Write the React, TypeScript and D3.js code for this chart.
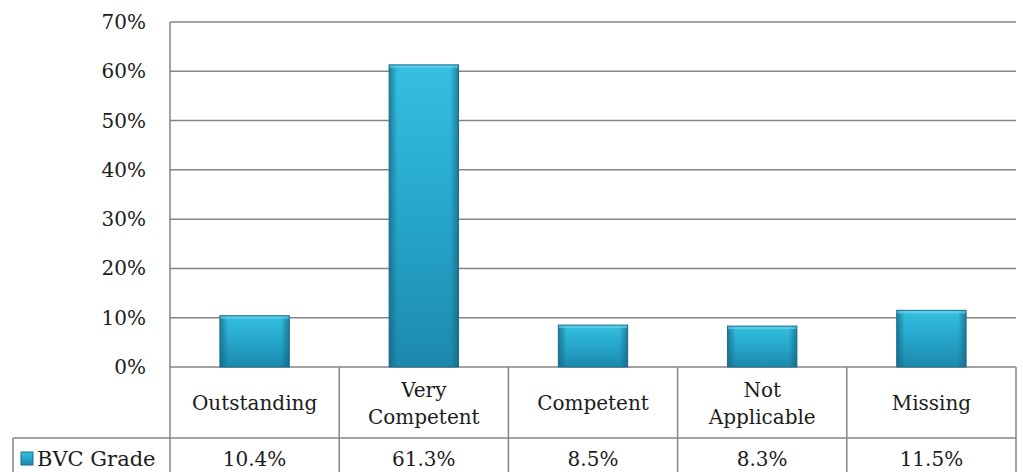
import * as d3 from "d3";
import React from "react";

const categories = ["Outstanding", "Very Competent", "Competent", "Not Applicable", "Missing"];
const categoryLines = [["Outstanding"], ["Very", "Competent"], ["Competent"], ["Not", "Applicable"], ["Missing"]];
const values = [10.4, 61.3, 8.5, 8.3, 11.5];
const valueLabels = ["10.4%", "61.3%", "8.5%", "8.3%", "11.5%"];
const yTicks = [0, 10, 20, 30, 40, 50, 60, 70];
const seriesName = "BVC Grade";

const W = 1023;
const H = 472;
const left = 170;
const right = 1016;
const top = 22;
const zeroY = 367;
const row1Bottom = 438;
const row2Bottom = 474;
const tableLeft = 13;
const font = "'DejaVu Serif', serif";

export default function App() {
  const x = d3.scaleBand().domain(categories).range([left, right]).paddingInner(0).paddingOuter(0);
  const y = d3.scaleLinear().domain([0, 70]).range([zeroY, top]);
  const barW = x.bandwidth() * 0.41;
  const grid = "#858585";
  const ink = "#1c1c1c";

  return (
    <svg width={W} height={H} style={{ position: "absolute", left: 0, top: 0, background: "#fff" }}>
      <defs>
        <linearGradient id="barFill" x1="0" y1="0" x2="0" y2="1">
          <stop offset="0" stopColor="#36c0e0" />
          <stop offset="0.5" stopColor="#25a6ca" />
          <stop offset="1" stopColor="#1c89ad" />
        </linearGradient>
        <linearGradient id="barSide" x1="0" y1="0" x2="1" y2="0">
          <stop offset="0" stopColor="#15627c" stopOpacity="0.7" />
          <stop offset="0.12" stopColor="#15627c" stopOpacity="0" />
          <stop offset="0.88" stopColor="#15627c" stopOpacity="0" />
          <stop offset="1" stopColor="#15627c" stopOpacity="0.7" />
        </linearGradient>
      </defs>
      {yTicks.map((t) => (
        <g key={t}>
          <line x1={left} x2={right} y1={y(t)} y2={y(t)} stroke={grid} strokeWidth={1.5} />
          <text x={146} y={y(t)} dy="0.35em" textAnchor="end" fontFamily={font} fontSize={20} fill={ink}>
            {t}%
          </text>
        </g>
      ))}
      <line x1={left} x2={left} y1={top} y2={row2Bottom} stroke={grid} strokeWidth={1.5} />
      {categories.map((c, i) => {
        const bx = x(c)! + (x.bandwidth() - barW) / 2;
        const by = y(values[i]);
        const bh = zeroY - by;
        return (
          <g key={c}>
            <rect x={bx} y={by} width={barW} height={bh} fill="url(#barFill)" />
            <rect x={bx} y={by} width={barW} height={bh} fill="url(#barSide)" />
            <rect x={bx} y={by} width={barW} height={3} fill="#6fd6ee" opacity={0.6} />
            <rect x={bx} y={by} width={barW} height={bh} fill="none" stroke="#1a6f8c" strokeWidth={1} />
          </g>
        );
      })}
      {/* data table */}
      <line x1={tableLeft} x2={right} y1={row1Bottom} y2={row1Bottom} stroke={grid} strokeWidth={1.5} />
      <line x1={tableLeft} x2={tableLeft} y1={row1Bottom} y2={row2Bottom} stroke={grid} strokeWidth={1.5} />
      {categories.map((c) => (
        <line key={c} x1={x(c)! + x.bandwidth()} x2={x(c)! + x.bandwidth()} y1={zeroY} y2={row2Bottom} stroke={grid} strokeWidth={1.5} />
      ))}
      {categories.map((c, i) => {
        const lines = categoryLines[i];
        const cx = x(c)! + x.bandwidth() / 2;
        const cy = 403;
        return (
          <text key={c} x={cx} textAnchor="middle" fontFamily={font} fontSize={20} fill={ink}>
            {lines.map((l, j) => (
              <tspan key={j} x={cx} y={cy + (j - (lines.length - 1) / 2) * 27} dy="0.35em">
                {l}
              </tspan>
            ))}
          </text>
        );
      })}
      {categories.map((c, i) => (
        <text key={c} x={x(c)! + x.bandwidth() / 2} y={459} dy="0.35em" textAnchor="middle" fontFamily={font} fontSize={20} fill={ink}>
          {valueLabels[i]}
        </text>
      ))}
      <rect x={21} y={452} width={12} height={13} fill="url(#barFill)" stroke="#1a6f8c" />
      <text x={37} y={459} dy="0.35em" fontFamily={font} fontSize={21} fill={ink}>
        {seriesName}
      </text>
    </svg>
  );
}
